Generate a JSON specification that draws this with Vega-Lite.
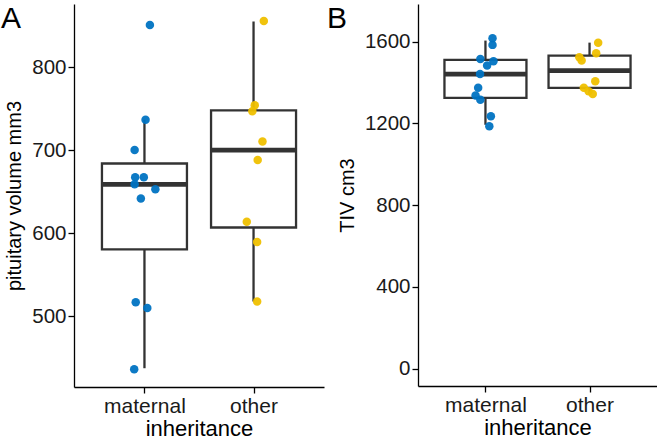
{
  "$schema": "https://vega.github.io/schema/vega-lite/v6.json",
  "padding": {"left": 1, "top": 3, "right": 0, "bottom": 0},
  "background": "white",
  "spacing": 94,
  "bounds": "flush",
  "config": {
    "font": "Liberation Sans",
    "view": {"stroke": null},
    "axis": {
      "grid": false,
      "domainColor": "#000000",
      "domainWidth": 1.3,
      "tickColor": "#000000",
      "tickWidth": 1.3,
      "tickSize": 6,
      "labelColor": "#1a1a1a",
      "labelFontSize": 20.5,
      "labelFont": "Liberation Sans",
      "titleFont": "Liberation Sans",
      "titleFontSize": 20,
      "titleFontWeight": "normal",
      "titleColor": "#000000",
      "labelPadding": 2
    },
    "axisX": {"labelFontSize": 21, "titleFontSize": 22, "labelPadding": 2}
  },
  "datasets": {
    "pitPoints": [
      {"inheritance": "maternal", "value": 850.8, "xj": 1.05},
      {"inheritance": "maternal", "value": 736.6, "xj": 1.01},
      {"inheritance": "maternal", "value": 700.4, "xj": 0.91},
      {"inheritance": "maternal", "value": 667.4, "xj": 0.915},
      {"inheritance": "maternal", "value": 667.4, "xj": 0.994},
      {"inheritance": "maternal", "value": 659.0, "xj": 0.91},
      {"inheritance": "maternal", "value": 653.0, "xj": 1.10},
      {"inheritance": "maternal", "value": 642.0, "xj": 0.967},
      {"inheritance": "maternal", "value": 517.0, "xj": 0.92},
      {"inheritance": "maternal", "value": 510.0, "xj": 1.026},
      {"inheritance": "maternal", "value": 436.4, "xj": 0.906},
      {"inheritance": "other", "value": 855.6, "xj": 2.094},
      {"inheritance": "other", "value": 754.0, "xj": 2.011},
      {"inheritance": "other", "value": 746.8, "xj": 1.989},
      {"inheritance": "other", "value": 710.5, "xj": 2.082},
      {"inheritance": "other", "value": 688.3, "xj": 2.038},
      {"inheritance": "other", "value": 613.8, "xj": 1.938},
      {"inheritance": "other", "value": 589.6, "xj": 2.033},
      {"inheritance": "other", "value": 517.8, "xj": 2.033}
    ],
    "pitBox": [
      {"inheritance": "maternal", "pos": 1, "lower": 437.6, "q1": 580.7, "median": 659.0, "q3": 684.0, "upper": 736.6},
      {"inheritance": "other", "pos": 2, "lower": 517.8, "q1": 607.0, "median": 700.0, "q3": 748.0, "upper": 854.8}
    ],
    "tivPoints": [
      {"inheritance": "maternal", "value": 1616.6, "xj": 1.068},
      {"inheritance": "maternal", "value": 1584, "xj": 1.068},
      {"inheritance": "maternal", "value": 1515, "xj": 0.951},
      {"inheritance": "maternal", "value": 1504, "xj": 1.077},
      {"inheritance": "maternal", "value": 1483, "xj": 1.016},
      {"inheritance": "maternal", "value": 1442, "xj": 0.948},
      {"inheritance": "maternal", "value": 1374, "xj": 0.93},
      {"inheritance": "maternal", "value": 1336, "xj": 0.905},
      {"inheritance": "maternal", "value": 1315, "xj": 0.951},
      {"inheritance": "maternal", "value": 1235, "xj": 1.052},
      {"inheritance": "maternal", "value": 1186, "xj": 1.037},
      {"inheritance": "other", "value": 1594, "xj": 2.083},
      {"inheritance": "other", "value": 1524, "xj": 1.902},
      {"inheritance": "other", "value": 1507, "xj": 1.924},
      {"inheritance": "other", "value": 1543, "xj": 2.064},
      {"inheritance": "other", "value": 1406, "xj": 2.055},
      {"inheritance": "other", "value": 1374, "xj": 1.945},
      {"inheritance": "other", "value": 1357, "xj": 1.991},
      {"inheritance": "other", "value": 1344, "xj": 2.031}
    ],
    "tivBox": [
      {"inheritance": "maternal", "pos": 1, "lower": 1193, "q1": 1325, "median": 1440.6, "q3": 1510.5, "upper": 1605},
      {"inheritance": "other", "pos": 2, "lower": 1345, "q1": 1373.6, "median": 1458, "q3": 1531.5, "upper": 1595}
    ]
  },
  "hconcat": [
    {
      "width": 250,
      "height": 383,
      "title": {"text": "A", "anchor": "start", "frame": "group", "orient": "top", "dx": -73, "offset": -29.5, "baseline": "top", "fontSize": 30, "fontWeight": "normal", "font": "Liberation Sans", "color": "#000000"},
      "layer": [
        {
          "data": {"name": "pitBox"},
          "mark": {"type": "rule", "color": "#333333", "strokeWidth": 2.3},
          "encoding": {
            "x": {"field": "pos", "type": "quantitative", "scale": {"domain": [0.4, 2.6], "nice": false, "zero": false}, "axis": {"title": "inheritance", "values": [1, 2], "labelExpr": "datum.value == 1 ? 'maternal' : 'other'", "titlePadding": 2}},
            "y": {"field": "lower", "type": "quantitative", "scale": {"domain": [415, 876], "nice": false, "zero": false}, "axis": {"title": "pituitary volume mm3", "values": [500, 600, 700, 800], "titlePadding": 7}},
            "y2": {"field": "upper"}
          }
        },
        {
          "data": {"name": "pitBox"},
          "mark": {"type": "bar", "size": 85, "fill": "white", "stroke": "#333333", "strokeWidth": 2.3},
          "encoding": {"x": {"field": "pos", "type": "quantitative"}, "y": {"field": "q1", "type": "quantitative"}, "y2": {"field": "q3"}}
        },
        {
          "data": {"name": "pitBox"},
          "mark": {"type": "tick", "orient": "horizontal", "color": "#333333", "size": 85, "thickness": 4.8, "opacity": 1},
          "encoding": {"x": {"field": "pos", "type": "quantitative"}, "y": {"field": "median", "type": "quantitative"}}
        },
        {
          "data": {"name": "pitPoints"},
          "mark": {"type": "circle", "size": 72, "opacity": 0.95},
          "encoding": {
            "x": {"field": "xj", "type": "quantitative"},
            "y": {"field": "value", "type": "quantitative"},
            "color": {"field": "inheritance", "type": "nominal", "scale": {"domain": ["maternal", "other"], "range": ["#0073C2", "#EFC000"]}, "legend": null}
          }
        }
      ]
    },
    {
      "width": 239,
      "height": 382,
      "title": {"text": "B", "anchor": "start", "frame": "group", "orient": "top", "dx": -91, "offset": -29.5, "baseline": "top", "fontSize": 30, "fontWeight": "normal", "font": "Liberation Sans", "color": "#000000"},
      "layer": [
        {
          "data": {"name": "tivBox"},
          "mark": {"type": "rule", "color": "#333333", "strokeWidth": 2.3},
          "encoding": {
            "x": {"field": "pos", "type": "quantitative", "scale": {"domain": [0.4, 2.6], "nice": false, "zero": false}, "axis": {"title": "inheritance", "values": [1, 2], "labelExpr": "datum.value == 1 ? 'maternal' : 'other'", "titlePadding": 2}},
            "y": {"field": "lower", "type": "quantitative", "scale": {"domain": [-85, 1784], "nice": false, "zero": false}, "axis": {"title": "TIV cm3", "values": [0, 400, 800, 1200, 1600], "format": "d", "titlePadding": 7}},
            "y2": {"field": "upper"}
          }
        },
        {
          "data": {"name": "tivBox"},
          "mark": {"type": "bar", "size": 82, "fill": "white", "stroke": "#333333", "strokeWidth": 2.3},
          "encoding": {"x": {"field": "pos", "type": "quantitative"}, "y": {"field": "q1", "type": "quantitative"}, "y2": {"field": "q3"}}
        },
        {
          "data": {"name": "tivBox"},
          "mark": {"type": "tick", "orient": "horizontal", "color": "#333333", "size": 82, "thickness": 4.8, "opacity": 1},
          "encoding": {"x": {"field": "pos", "type": "quantitative"}, "y": {"field": "median", "type": "quantitative"}}
        },
        {
          "data": {"name": "tivPoints"},
          "mark": {"type": "circle", "size": 72, "opacity": 0.95},
          "encoding": {
            "x": {"field": "xj", "type": "quantitative"},
            "y": {"field": "value", "type": "quantitative"},
            "color": {"field": "inheritance", "type": "nominal", "scale": {"domain": ["maternal", "other"], "range": ["#0073C2", "#EFC000"]}, "legend": null}
          }
        }
      ]
    }
  ]
}
